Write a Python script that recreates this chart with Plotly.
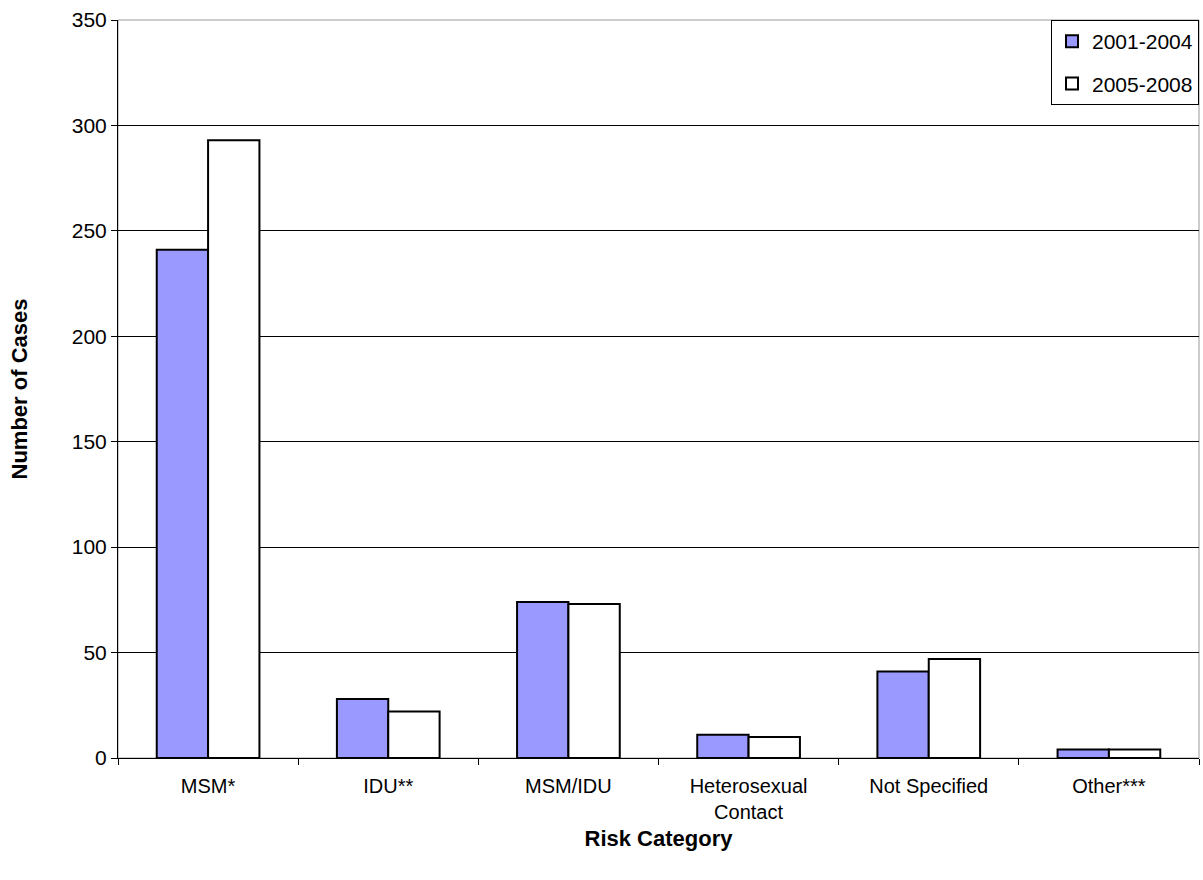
import plotly.graph_objects as go

# Cases by risk category, two reporting periods
categories = ["MSM*", "IDU**", "MSM/IDU", "Heterosexual<br>Contact", "Not Specified", "Other***"]
cases_2001_2004 = [241, 28, 74, 11, 41, 4]
cases_2005_2008 = [293, 22, 73, 10, 47, 4]
y_ticks = [0, 50, 100, 150, 200, 250, 300, 350]

font_family = "Liberation Sans, Arial, sans-serif"

fig = go.Figure()
fig.add_trace(go.Bar(
    x=categories, y=cases_2001_2004, name="2001-2004", legendgroup="a",
    marker=dict(color="#9999ff", line=dict(color="black", width=2)),
))
fig.add_trace(go.Bar(
    x=categories, y=cases_2005_2008, name="2005-2008", legendgroup="b",
    marker=dict(color="white", line=dict(color="black", width=2)),
))

fig.update_layout(
    width=1203, height=880,
    margin=dict(l=118, r=4, t=20, b=122),
    paper_bgcolor="white", plot_bgcolor="white",
    barmode="group", bargap=0.43, bargroupgap=0,
    font=dict(family=font_family, color="black"),
    showlegend=True,
    legend=dict(
        x=1, y=1, xanchor="right", yanchor="top",
        bordercolor="black", borderwidth=1, bgcolor="white",
        font=dict(size=21, family=font_family),
        itemwidth=30, traceorder="grouped", tracegroupgap=12,
    ),
    xaxis=dict(
        title=dict(text="<b>Risk Category</b>", font=dict(size=22), standoff=8),
        tickfont=dict(size=20),
        ticks="outside", tickson="boundaries", ticklen=6, tickcolor="black",
        ticklabelstandoff=10,
        showline=True, linecolor="black", linewidth=1,
        showgrid=False,
    ),
    yaxis=dict(
        title=dict(text="<b>Number of Cases</b>", font=dict(size=22), standoff=38),
        range=[0, 350], tickvals=y_ticks, tickfont=dict(size=21),
        ticks="outside", ticklen=6, tickcolor="black",
        showline=True, linecolor="black", linewidth=1,
        showgrid=True, gridcolor="black", gridwidth=1,
        zeroline=False,
    ),
)

# Plot-area frame on top and right
fig.add_shape(type="rect", xref="paper", yref="paper", x0=0, y0=0, x1=1, y1=1,
              line=dict(color="#999999", width=1), layer="below")

fig.write_html("out.html")
